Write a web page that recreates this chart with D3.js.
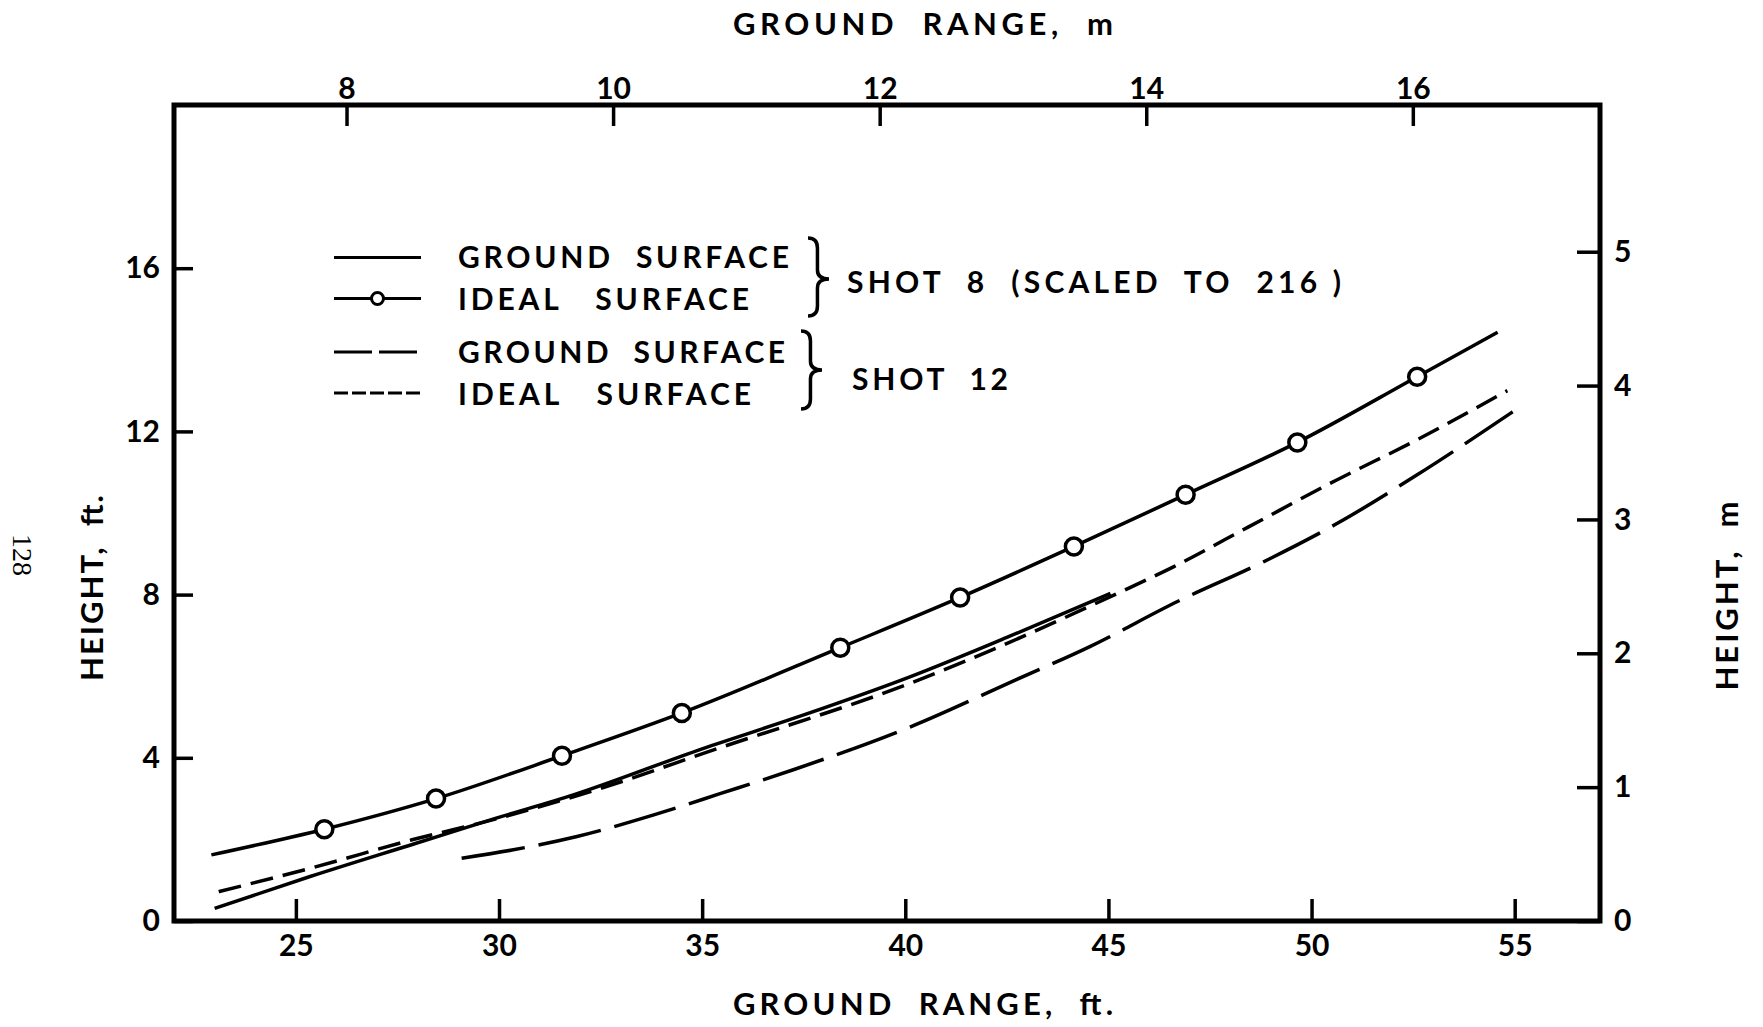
<!DOCTYPE html>
<html><head><meta charset="utf-8">
<script src="https://cdn.jsdelivr.net/npm/d3@7"></script>
<style>
html,body{margin:0;padding:0;background:#fff;}
svg{display:block;background:#fff;}
text{font-family:Lato,"Open Sans",sans-serif;font-weight:700;fill:#000;white-space:pre;}
</style></head><body>
<svg id="chart" width="1763" height="1027"></svg>
<script>
// ---------- data (ft) ----------
const FT_PER_M = 3.2808;
const xTicksFt = [25, 30, 35, 40, 45, 50, 55];
const yTicksFt = [0, 4, 8, 12, 16];
const xTicksM = [8, 10, 12, 14, 16];
const yTicksM = [0, 1, 2, 3, 4, 5];

// Shot 8 (scaled to 216) – ideal surface (line with circles)
const idealShot8X = [22.92, 25.7, 28.45, 31.55, 34.5, 38.4, 41.35, 44.15, 46.9, 49.65, 52.6, 54.58];
const idealShot8Y = [1.62, 2.25, 3.0, 4.05, 5.1, 6.7, 7.93, 9.18, 10.45, 11.73, 13.34, 14.43];
const idealShot8Marker = [false, true, true, true, true, true, true, true, true, true, true, false];
// Shot 8 – ground surface (solid)
const groundShot8X = [23.0, 25.35, 27.94, 29.93, 31.83, 35.0, 37.5, 40.13, 42.5, 45.05];
const groundShot8Y = [0.31, 1.09, 1.90, 2.52, 3.09, 4.22, 5.05, 5.99, 6.95, 8.03];
// Shot 12 – ideal surface (short dash)
const idealShot12X = [23.1, 25.35, 27.86, 30.0, 32.5, 35.3, 40.13, 45.31, 46.6, 48.45, 50.62, 52.59, 54.82];
const idealShot12Y = [0.72, 1.29, 1.99, 2.52, 3.25, 4.2, 5.83, 8.07, 8.68, 9.66, 10.81, 11.79, 13.0];
// Shot 12 – ground surface (long dash)
const groundShot12X = [29.08, 30.32, 31.92, 33.81, 35.44, 37.28, 40.13, 42.72, 44.53, 46.7, 48.81, 50.57, 52.59, 54.95];
const groundShot12Y = [1.54, 1.74, 2.07, 2.60, 3.12, 3.72, 4.76, 5.91, 6.72, 7.83, 8.80, 9.71, 10.93, 12.48];

const legendLabels = ["GROUND  SURFACE", "IDEAL   SURFACE", "GROUND  SURFACE", "IDEAL   SURFACE"];
const groupLabels = ["SHOT  8  (SCALED  TO  216 )", "SHOT  12"];

// ---------- scales ----------
const svg = d3.select("#chart");
const xFt = d3.scaleLinear().domain([22, 57.1]).range([174, 1600]);
const yFt = d3.scaleLinear().domain([0, 20]).range([921, 105]);
const xM = d3.scaleLinear().domain(xFt.domain().map(v => v / FT_PER_M)).range(xFt.range());
const yM = d3.scaleLinear().domain(yFt.domain().map(v => v / FT_PER_M)).range(yFt.range());

const zip = (xs, ys) => xs.map((x, i) => ({x, y: ys[i], i}));

// ---------- axes ----------
function styleAxis(g) {
  g.select(".domain").remove();
  g.selectAll(".tick line").attr("stroke", "#000").attr("stroke-width", 3.5);
  g.selectAll(".tick text").attr("font-family", null).attr("font-size", 30).style("font-size", "30px");
  g.attr("font-family", null).attr("font-size", null);
}
svg.append("g").attr("transform", `translate(0,${yFt.range()[0]})`)
  .call(d3.axisBottom(xFt).tickValues(xTicksFt).tickSizeInner(-22).tickSizeOuter(0).tickPadding(14).tickFormat(d3.format("d")))
  .call(styleAxis);
svg.append("g").attr("transform", `translate(${xFt.range()[0]},0)`)
  .call(d3.axisLeft(yFt).tickValues(yTicksFt).tickSizeInner(-19).tickSizeOuter(0).tickPadding(14).tickFormat(d3.format("d")))
  .call(styleAxis);
svg.append("g").attr("transform", `translate(0,${yFt.range()[1]})`)
  .call(d3.axisTop(xM).tickValues(xTicksM).tickSizeInner(-21).tickSizeOuter(0).tickPadding(6).tickFormat(d3.format("d")))
  .call(styleAxis);
svg.append("g").attr("transform", `translate(${xFt.range()[1]},0)`)
  .call(d3.axisRight(yM).tickValues(yTicksM).tickSizeInner(-23).tickSizeOuter(0).tickPadding(14).tickFormat(d3.format("d")))
  .call(styleAxis);

// frame
svg.append("rect")
  .attr("x", xFt.range()[0]).attr("y", yFt.range()[1])
  .attr("width", xFt.range()[1] - xFt.range()[0])
  .attr("height", yFt.range()[0] - yFt.range()[1])
  .attr("fill", "none").attr("stroke", "#000").attr("stroke-width", 5);

// ---------- lines ----------
const line = d3.line().x(d => xFt(d.x)).y(d => yFt(d.y)).curve(d3.curveMonotoneX);
const series = [
  {data: zip(groundShot8X, groundShot8Y), dash: null},
  {data: zip(idealShot12X, idealShot12Y), dash: "23,10"},
  {data: zip(groundShot12X, groundShot12Y), dash: "64,14"},
  {data: zip(idealShot8X, idealShot8Y), dash: null}
];
svg.append("g").selectAll("path").data(series).join("path")
  .attr("d", d => line(d.data))
  .attr("fill", "none").attr("stroke", "#000").attr("stroke-width", 3.5)
  .attr("stroke-dasharray", d => d.dash);

svg.append("g").selectAll("circle")
  .data(zip(idealShot8X, idealShot8Y).filter(d => idealShot8Marker[d.i]))
  .join("circle")
  .attr("cx", d => xFt(d.x)).attr("cy", d => yFt(d.y)).attr("r", 8.5)
  .attr("fill", "#fff").attr("stroke", "#000").attr("stroke-width", 3.5);

// ---------- legend ----------
const legRows = [
  {y: 257.5, dash: null, marker: false, base: 268, len: 331},
  {y: 298.5, dash: null, marker: true, base: 310, len: 291},
  {y: 352, dash: "38,7", marker: false, base: 363, len: 327},
  {y: 393, dash: "14,4", marker: false, base: 405, len: 293}
];
const leg = svg.append("g");
legRows.forEach((r, i) => {
  leg.append("line").attr("x1", 334).attr("x2", 421).attr("y1", r.y).attr("y2", r.y)
    .attr("stroke", "#000").attr("stroke-width", 3).attr("stroke-dasharray", r.dash);
  if (r.marker) leg.append("circle").attr("cx", 377.5).attr("cy", r.y).attr("r", 6)
    .attr("fill", "#fff").attr("stroke", "#000").attr("stroke-width", 3);
  leg.append("text").attr("x", 458).attr("y", r.base).attr("font-size", 30)
    .attr("textLength", r.len).attr("lengthAdjust", "spacing").text(legendLabels[i]);
});
function brace(xl, yt, yb, ym, w) {
  const xm = xl + w * 0.45, xt = xl + w;
  return `M${xl},${yt} Q${xm},${yt} ${xm},${yt + 10} L${xm},${ym - 9} Q${xm},${ym} ${xt},${ym}` +
         ` Q${xm},${ym} ${xm},${ym + 9} L${xm},${yb - 10} Q${xm},${yb} ${xl},${yb}`;
}
leg.append("path").attr("d", brace(808, 238, 316, 279, 21)).attr("fill", "none").attr("stroke", "#000").attr("stroke-width", 3.5);
leg.append("path").attr("d", brace(801, 331, 409, 370, 21)).attr("fill", "none").attr("stroke", "#000").attr("stroke-width", 3.5);
leg.append("text").attr("x", 847).attr("y", 293).attr("font-size", 30)
  .attr("textLength", 494).attr("lengthAdjust", "spacing").text(groupLabels[0]);
leg.append("text").attr("x", 852).attr("y", 390).attr("font-size", 30)
  .attr("textLength", 156).attr("lengthAdjust", "spacing").text(groupLabels[1]);

// ---------- titles ----------
svg.append("text").attr("x", 733).attr("y", 1015).attr("font-size", 31)
  .attr("textLength", 380).attr("lengthAdjust", "spacing").text("GROUND  RANGE,  ft.");
svg.append("text").attr("x", 733).attr("y", 35).attr("font-size", 31)
  .attr("textLength", 380).attr("lengthAdjust", "spacing").text("GROUND  RANGE,  m");
svg.append("text").attr("transform", "translate(103,588) rotate(-90)").attr("text-anchor", "middle")
  .attr("font-size", 31).attr("textLength", 186).attr("lengthAdjust", "spacing").text("HEIGHT,  ft.");
svg.append("text").attr("transform", "translate(1738,596) rotate(-90)").attr("text-anchor", "middle")
  .attr("font-size", 31).attr("textLength", 189).attr("lengthAdjust", "spacing").text("HEIGHT,  m");
svg.append("text").attr("transform", "translate(13,555) rotate(90)").attr("text-anchor", "middle")
  .attr("font-size", 28).style("font-family", "'Liberation Serif', serif").style("font-weight", 400).text("128");
</script></body></html>
